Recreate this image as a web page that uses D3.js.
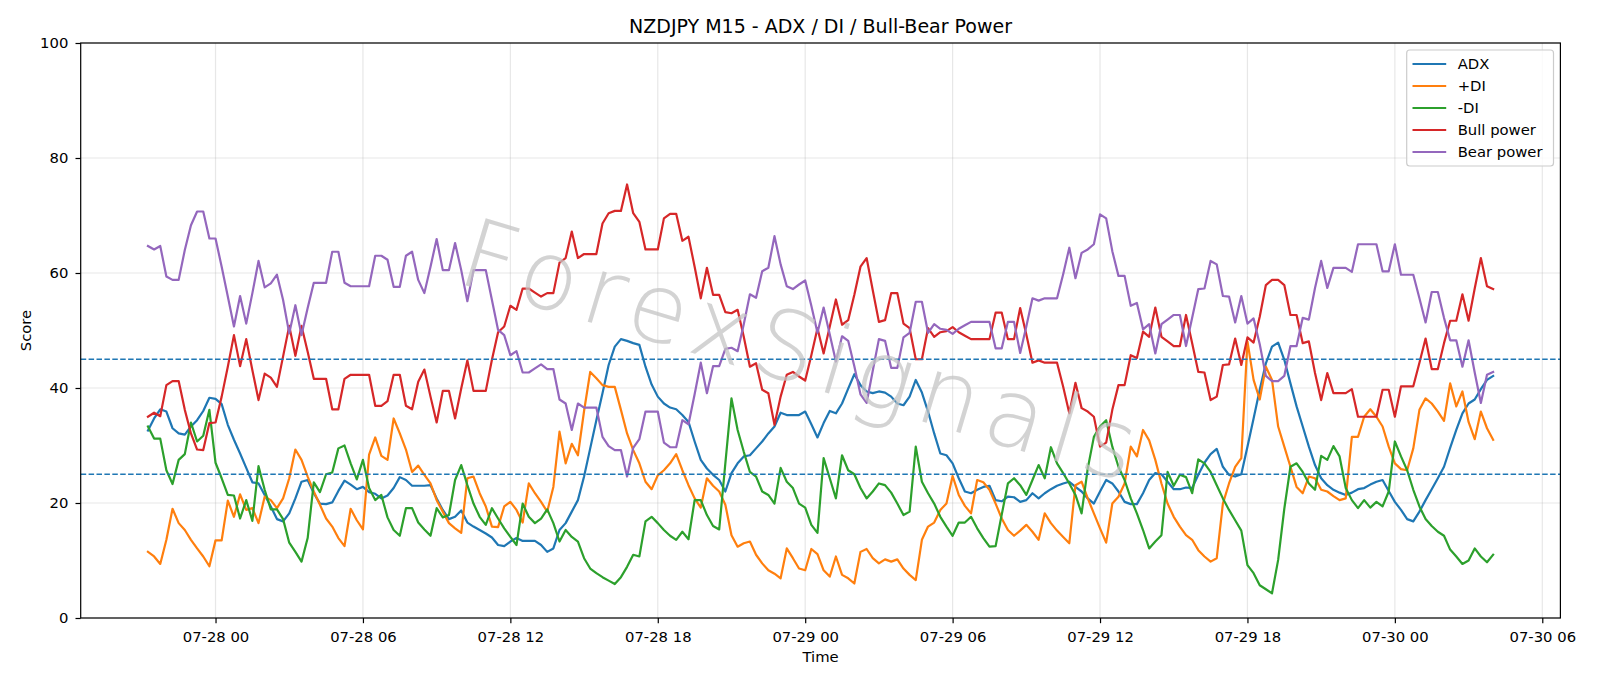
<!DOCTYPE html>
<html><head><meta charset="utf-8">
<script src="https://cdn.jsdelivr.net/npm/d3@7"></script>
<style>
html,body{margin:0;padding:0;background:#fff;}
svg{display:block;font-family:"DejaVu Sans",sans-serif;}
</style>
</head><body>
<svg id="chart" width="1600" height="686"></svg>
<script>
// ---- data ----
const startTime = "2025-07-27 21:15";
const stepMinutes = 15;

const adx = [32.6,34.7,36.3,35.9,33,32.1,31.9,33.3,34.4,36,38.3,38.1,37.2,33.6,31,28.6,26.1,23.6,23.4,21.4,19.4,17.2,16.8,18.2,20.8,23.7,24,21.7,19.9,19.8,20.1,22.1,23.9,23.2,22.4,22.8,21.9,21.6,20.8,21.3,
22.6,24.5,24,23,23,23,23.1,20.8,18.8,17.2,17.6,18.7,16.6,15.9,15.3,14.7,14,12.7,12.5,13.3,13.9,13.4,13.4,13.4,12.7,11.5,12.1,15.3,16.5,18.5,20.5,24.6,29.5,34.4,39.1,44,47.2,48.5,48.2,47.8,
47.5,43.7,40.6,38.5,37.3,36.6,36.3,35.3,34.1,30.7,27.5,26,24.9,24,22,25.2,26.9,28.1,28.3,29.5,30.7,32.1,33.3,35.7,35.3,35.3,35.3,35.9,33.7,31.4,33.9,36,35.6,37.3,39.9,42.4,40.5,39.4,39.1,39.4,
39.2,38.5,37.3,37,38.5,41.4,39.2,35.9,32.1,28.6,28.3,26.9,24.3,22,21.7,22.3,22.8,23,20.5,20.3,21.1,21,20.2,20.5,21.7,20.8,21.7,22.4,23,23.4,23.7,22.8,22,20.8,19.9,22,24,23.4,22,20.2,
19.8,19.8,21.7,24,25.2,25,23.7,22.4,22.4,22.7,22.6,24.9,27,28.5,29.4,26.3,24.9,24.6,25,29.8,34.7,39.7,44.3,47.2,47.9,44.9,40.8,36.8,33.3,29.8,26.6,24.3,23.1,22.3,21.8,21.4,21.8,22.4,22.6,23.2,
23.7,24,22.1,20.2,18.8,17.2,16.8,18.5,20.5,22.4,24.3,26.3,29.6,32.7,35.6,37.3,38,39.8,41.4,42.1];

const plusDI = [11.5,10.7,9.4,13.6,19,16.5,15.3,13.6,12.1,10.7,9,13.5,13.5,20.4,17.6,21.5,18.8,19.1,16.5,21.1,20.5,19.1,20.8,24.3,29.3,27.5,24.6,22,19.7,17.3,15.9,13.9,12.5,19,17,15.4,28.4,31.4,28.2,27.5,
34.7,32.1,29.3,25.4,26.5,24.9,23.4,20.5,18.5,16.5,15.6,14.8,24.3,24.6,21.7,19.4,15.9,15.8,19.4,20.2,18.8,16.6,23.4,21.7,20.2,18.5,22.8,32.4,26.9,30.3,28.3,36,42.8,41.7,40.5,40.2,40.2,36.2,32.1,29.2,
26.9,23.7,22.4,24.8,25.7,26.9,28.5,25.7,23.1,20.8,19.2,24.3,23,22,19.7,14.4,12.4,13,13.3,11,9.5,8.3,7.7,6.9,12.1,10.4,8.6,8.3,12,11.1,8.3,7.2,10.7,7.5,6.9,6,11.5,12,10.4,9.5,
10.2,9.8,10.2,8.6,7.5,6.6,13.6,15.9,16.6,18.8,19.9,24.7,21.4,19.5,18.2,24,23.6,22.3,19.9,17.3,15.3,14.3,15.2,16.2,15,13.6,18.2,16.5,15.2,14.1,13,23.1,23.7,20.8,18.2,15.6,13.1,19.9,21.1,23.4,
29.8,28.1,32.7,30.9,27.5,23.4,19.9,17.6,15.9,14.4,13.6,11.8,10.7,9.8,10.4,19.9,23.4,26.3,27.8,48.1,41.4,38,43.7,41.4,33.3,29.8,26.3,22.8,21.7,24.6,24.3,22.3,22,21.2,20.5,20.8,31.5,31.5,35,36.3,
35,33.3,29.8,26.9,25.9,25.7,29.5,36.2,38.2,37.3,35.9,34.3,40.8,36.8,39.4,34.1,31.1,35.9,33,31];

const minusDI = [33.3,31.2,31.2,25.7,23.3,27.5,28.5,34,30.7,31.7,36.2,27,24.3,21.4,21.3,17.3,20.5,16.9,26.4,22.3,18.9,18.9,17.2,13.1,11.5,9.8,13.9,23.6,21.9,25,25.3,29.5,30,26.9,24.1,27.5,22.6,20.5,21.4,17.5,
15.3,14.3,19.1,19.1,16.6,15.4,14.3,19.1,17.5,17.9,24,26.6,23.1,19.9,17.6,16.2,19.1,17.3,15.6,14.1,12.7,19.9,17.6,16.5,17.3,18.9,16.5,13.3,15.3,14.1,13.3,10.4,8.6,7.8,7.1,6.5,5.9,7.1,8.9,11,
10.7,16.8,17.6,16.5,15.3,14.3,13.6,15,13.7,20.5,20.5,17.9,16,15.4,26.9,38.2,32.7,28.9,25.4,24.6,22,21.4,19.9,26.1,23.7,22.6,19.9,19.2,16.2,14.8,27.8,24.3,20.8,28.3,25.7,25,22.6,20.8,22,23.4,
23.1,21.8,19.9,17.9,18.5,29.8,23.7,21.7,19.9,17.6,15.9,14.3,16.6,16.6,17.6,15.6,13.9,12.4,12.5,18,23.4,24.3,23.1,21.4,24,26.6,24.3,29.7,26.9,25.2,23.4,21.4,18.2,26,31.5,33.3,34.4,29.8,26.3,24,
20.8,18.2,15.3,12.1,13.3,14.4,25.4,23,24.9,24.5,21.7,27.6,26.9,25.4,23.1,20.8,18.8,17,15.2,9.2,7.8,5.7,5,4.3,10.1,19,26.3,26.9,25.4,23.4,22.3,28.2,27.5,29.9,28.1,22.6,20.5,19.1,20.5,19.2,
20.2,19.4,22,30.7,28.1,25.7,22.3,19.4,17.2,16,15,14.3,11.9,10.7,9.4,10,12.1,10.7,9.7,11];

const bullPower = [35,35.7,35.1,40.5,41.2,41.2,36.2,32.1,29.3,29.2,33.9,34,38.5,43.7,49.2,43.8,48.5,43.1,37.9,42.5,41.8,40.2,45.5,50.8,45.6,50.8,46.3,41.6,41.6,41.6,36.3,36.3,41.6,42.3,42.3,42.3,42.3,36.9,36.9,37.7,
42.3,42.3,36.9,36.3,41.1,43.2,38.5,34,39.5,39.5,34.7,39.9,44.8,39.5,39.5,39.5,44.9,49.7,50.7,54.3,53.6,57.3,57.3,56.6,55.9,56.5,56.5,61.8,62.6,67.2,62.6,63.3,63.3,63.3,68.6,70.4,70.8,70.8,75.4,70.4,
68.9,64.1,64.1,64.1,69.5,70.3,70.3,65.6,66.3,61.1,55.6,60.9,56.2,56.2,53.2,53,53.6,48.9,43.7,44.3,39.7,39.1,33.6,38.5,42.3,42.8,42,41.3,45.7,50.4,46,50.7,55.4,51,51.8,56.2,61.1,62.6,57,51.5,
51.8,56.5,56.5,51.2,50.4,45,45,50.4,48.9,49.7,49.9,50.6,49.7,49.1,48.5,48.5,48.5,48.5,53.1,53.1,48.5,48.5,53.9,49.3,44.4,44.8,44.4,44.4,44.4,40.2,35.6,40.9,36.5,35.9,35,29.8,30.5,36.2,40.5,40.5,
45.7,45.2,49.8,48.9,54,48.9,48.1,47.3,47.3,52.7,47.8,42.8,42.7,37.9,38.5,44,44.1,48.6,44,48.8,47.9,52.4,57.9,58.8,58.8,57.9,52.7,52.7,47.8,48.1,42.6,37.9,42.6,39.1,39.1,39.1,39.8,35,35,35,
35,39.7,39.7,35,40.3,40.3,40.3,44.4,48.6,43.3,43.3,47.8,51.7,51.7,56.3,51.7,57.3,62.6,57.7,57.2];

const bearPower = [64.7,64.1,64.7,59.4,58.8,58.8,64,68.3,70.7,70.7,66,66,61.1,55.9,50.7,56,51.2,56.5,62.1,57.5,58.2,59.7,55.3,49.5,54.4,49.2,53.9,58.3,58.3,58.3,63.7,63.7,58.3,57.7,57.7,57.7,57.7,63,63,62.3,
57.6,57.6,63,63.7,58.8,56.5,61.1,65.9,60.5,60.5,65.2,60.5,55.1,60.5,60.5,60.5,55.3,50.1,49.2,45.7,46.4,42.7,42.7,43.4,44.1,43.3,43.3,38,37.3,32.7,37.3,36.6,36.6,36.6,31.5,29.9,29.2,29.2,24.6,29.6,
31.1,35.9,35.9,35.9,30.5,29.7,29.7,34.4,33.7,38.9,44.4,39.1,43.8,43.8,46.8,47,46.4,51.1,56.3,55.7,60.3,60.9,66.4,61.5,57.7,57.2,58,58.7,54.3,49.6,54,49.3,44.6,49,48.2,43.8,38.9,37.4,43,48.5,
48.2,43.5,43.5,48.8,49.6,55,55,49.6,51.1,50.3,50.1,49.4,50.3,50.9,51.5,51.5,51.5,51.5,46.9,46.9,51.5,51.5,46.1,50.7,55.6,55.2,55.6,55.6,55.6,59.8,64.4,59.1,63.5,64.1,65,70.2,69.5,63.8,59.5,59.5,
54.3,54.8,50.2,51.1,46,51.1,51.9,52.7,52.7,47.3,52.2,57.2,57.3,62.1,61.5,56,55.9,51.4,56,51.2,52.1,47.6,42.1,41.2,41.2,42.1,47.3,47.3,52.2,51.9,57.4,62.1,57.4,60.9,60.9,60.9,60.2,65,65,65,
65,60.3,60.3,65,59.7,59.7,59.7,55.6,51.4,56.7,56.7,52.2,48.3,48.3,43.7,48.3,42.7,37.4,42.3,42.8];

const seriesNames = ["ADX", "+DI", "-DI", "Bull power", "Bear power"];
const seriesColors = ["#1f77b4", "#ff7f0e", "#2ca02c", "#d62728", "#9467bd"];
const xTickLabels = ["07-28 00","07-28 06","07-28 12","07-28 18","07-29 00","07-29 06","07-29 12","07-29 18","07-30 00","07-30 06"];
const yTicks = [0, 20, 40, 60, 80, 100];
const thresholds = [25, 45];
const titleText = "NZDJPY M15 - ADX / DI / Bull-Bear Power";
const xLabelText = "Time";
const yLabelText = "Score";
const watermarkText = "ForexSignals";

// ---- layout ----
const L = 80.7, R = 1560.4, T = 43, B = 618;
const fs = 14.8;
const svg = d3.select("#chart");

const parseT = d3.utcParse("%Y-%m-%d %H:%M");
const t0 = parseT(startTime);
const seriesData = [adx, plusDI, minusDI, bullPower, bearPower];
const n = d3.max(seriesData, s => s.length);
const times = d3.range(n).map(i => new Date(t0.getTime() + i * stepMinutes * 60000));
const span = times[n - 1] - times[0];
const x = d3.scaleUtc()
  .domain([new Date(+times[0] - 0.05 * span), new Date(+times[n - 1] + 0.05 * span)])
  .range([L, R]);
const y = d3.scaleLinear().domain([0, 100]).range([B, T]);

const parseTick = d3.utcParse("%Y-%m-%d %H");
const tickDates = xTickLabels.map(s => parseTick("2025-" + s));

// grid
const grid = svg.append("g");
grid.selectAll("line.vg").data(tickDates).join("line")
  .attr("x1", d => x(d)).attr("x2", d => x(d)).attr("y1", T).attr("y2", B)
  .attr("stroke", "#b0b0b0").attr("stroke-opacity", 0.3).attr("stroke-width", 1.2);
grid.selectAll("line.hg").data(yTicks).join("line")
  .attr("x1", L).attr("x2", R).attr("y1", d => y(d)).attr("y2", d => y(d))
  .attr("stroke", "#b0b0b0").attr("stroke-opacity", 0.3).attr("stroke-width", 1.2);

// series lines
svg.append("clipPath").attr("id", "clip").append("rect")
  .attr("x", L).attr("y", T).attr("width", R - L).attr("height", B - T);
const line = d3.line().x((d, i) => x(times[i])).y(d => y(d));
const lines = svg.append("g").attr("clip-path", "url(#clip)");
seriesData.forEach((s, k) => {
  lines.append("path").datum(s)
    .attr("d", line)
    .attr("fill", "none")
    .attr("stroke", seriesColors[k])
    .attr("stroke-width", 2.2)
    .attr("stroke-linejoin", "round")
    .attr("stroke-linecap", "square");
});

// threshold lines
svg.append("g").selectAll("line").data(thresholds).join("line")
  .attr("x1", L).attr("x2", R).attr("y1", d => y(d)).attr("y2", d => y(d))
  .attr("stroke", "#1f77b4").attr("stroke-width", 1.4)
  .attr("stroke-dasharray", "5.5,2.4");

// watermark
svg.append("text")
  .attr("transform", "translate(790,382) rotate(16.6)")
  .attr("text-anchor", "middle")
  .attr("font-family", "DejaVu Sans")
  .attr("font-weight", 200)
  .attr("font-size", 96)
  .attr("textLength", 700)
  .attr("lengthAdjust", "spacing")
  .attr("fill", "#c4c4c4")
  .attr("fill-opacity", 0.75)
  .text(watermarkText);

// axes
const xAxis = d3.axisBottom(x).tickValues(tickDates)
  .tickFormat((d, i) => xTickLabels[i]).tickSize(5.2).tickPadding(8).tickSizeOuter(0);
const gx = svg.append("g").attr("transform", `translate(0,${B})`).call(xAxis);
const yAxis = d3.axisLeft(y).tickValues(yTicks).tickSize(5.2).tickPadding(7.2).tickSizeOuter(0);
const gy = svg.append("g").attr("transform", `translate(${L},0)`).call(yAxis);
[gx, gy].forEach(g => {
  g.select(".domain").remove();
  g.selectAll(".tick line").attr("stroke", "#000").attr("stroke-width", 1.2);
  g.selectAll(".tick text").attr("fill", "#000").attr("font-size", fs).attr("font-family", "DejaVu Sans");
});

// frame
svg.append("rect").attr("x", L).attr("y", T).attr("width", R - L).attr("height", B - T)
  .attr("fill", "none").attr("stroke", "#000").attr("stroke-width", 1.2);

// labels
svg.append("text").attr("x", (L + R) / 2).attr("y", 32.5).attr("text-anchor", "middle")
  .attr("font-size", 19).attr("fill", "#000").text(titleText);
svg.append("text").attr("x", (L + R) / 2).attr("y", 661.5).attr("text-anchor", "middle")
  .attr("font-size", fs).attr("fill", "#000").text(xLabelText);
svg.append("text").attr("transform", `translate(30.7,${(T + B) / 2}) rotate(-90)`)
  .attr("text-anchor", "middle").attr("font-size", fs).attr("fill", "#000").text(yLabelText);

// legend
const lg = svg.append("g");
const lx = 1406.7, ly = 50, lw = 146.8, lh = 116;
lg.append("rect").attr("x", lx).attr("y", ly).attr("width", lw).attr("height", lh)
  .attr("rx", 3).attr("fill", "#fff").attr("fill-opacity", 0.8)
  .attr("stroke", "#cccccc").attr("stroke-width", 1.2);
const rowY = d3.scaleLinear().domain([0, 4]).range([64, 152]);
seriesNames.forEach((name, k) => {
  lg.append("line").attr("x1", lx + 5.8).attr("x2", lx + 39.5)
    .attr("y1", rowY(k)).attr("y2", rowY(k))
    .attr("stroke", seriesColors[k]).attr("stroke-width", 2.2);
  lg.append("text").attr("x", lx + 51).attr("y", rowY(k)).attr("dy", "0.35em")
    .attr("font-size", fs).attr("fill", "#000").text(name);
});
</script>
</body></html>
